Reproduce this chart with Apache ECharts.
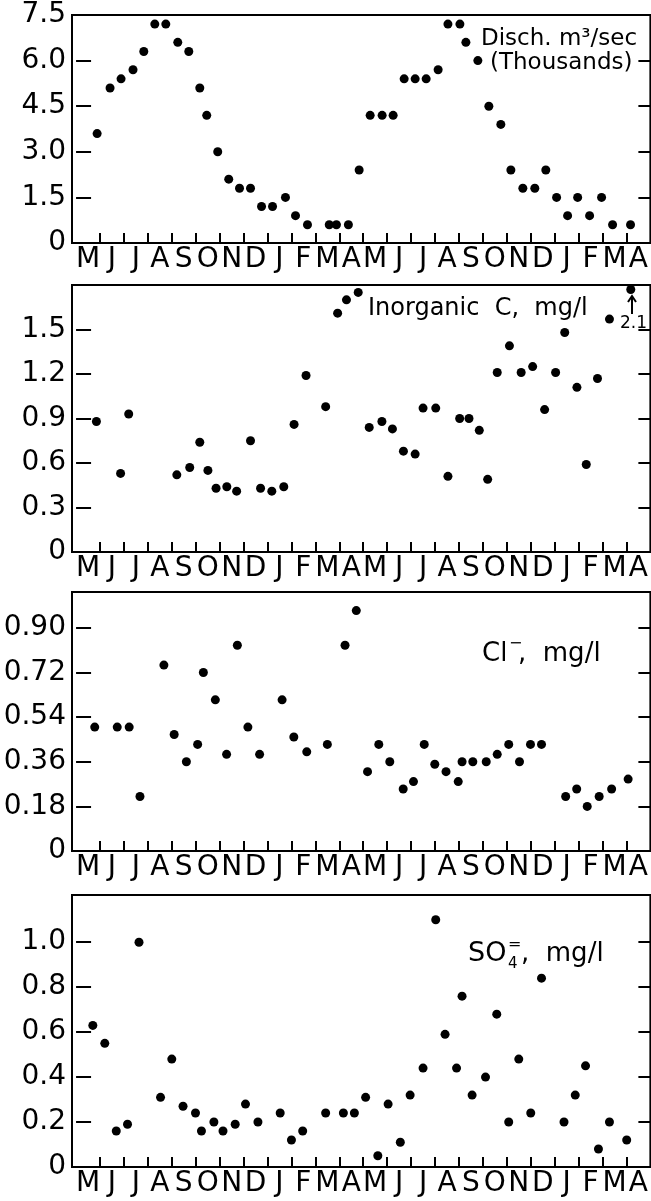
<!DOCTYPE html>
<html>
<head>
<meta charset="utf-8">
<title>River chemistry</title>
<script src="https://cdn.jsdelivr.net/npm/echarts@6/dist/echarts.min.js"></script>
<style>
html, body { margin: 0; padding: 0; background: #fff; }
#main { width: 651px; height: 1201px; }
</style>
</head>
<body>
<div id="main"></div>
<script>
// month letters, two years May..April
var months = ['M','J','J','A','S','O','N','D','J','F','M','A',
              'M','J','J','A','S','O','N','D','J','F','M','A'];

// discharge, m3/sec (thousands)
var dischMonth = [0.88,1.42,1.88,2.38,2.83,3.29,3.75,4.25,4.71,5.17,5.46,5.92,6.38,6.83,7.29,7.75,
                  8.21,8.75,9.17,9.67,10.58,10.88,11.38,11.83,12.29,12.79,13.25,13.71,14.17,14.63,
                  15.13,15.54,16.04,16.29,16.79,17.25,17.75,18.17,18.67,19.17,19.63,20.08,20.54,
                  20.96,21.46,21.96,22.42,23.17];
var dischValue = [3.6,5.1,5.4,5.7,6.3,7.2,7.2,6.6,6.3,5.1,4.2,3.0,2.1,1.8,1.8,1.2,
                  1.2,1.5,0.9,0.6,0.6,0.6,0.6,2.4,4.2,4.2,4.2,5.4,5.4,5.4,
                  5.7,7.2,7.2,6.6,6.0,4.5,3.9,2.4,1.8,1.8,2.4,1.5,0.9,
                  1.5,0.9,1.5,0.6,0.6];

// inorganic C, mg/l (last one is 2.1, off scale)
var carbonMonth = [0.85,1.86,2.20,4.21,4.75,5.17,5.51,5.85,6.30,6.71,7.29,7.71,8.18,8.68,9.11,9.61,
                   10.43,10.93,11.30,11.79,12.25,12.78,13.22,13.68,14.17,14.50,15.03,15.54,16.03,
                   16.42,16.85,17.20,17.60,18.11,18.60,19.08,19.58,20.04,20.42,20.93,21.32,21.79,
                   22.29,23.18];
var carbonValue = [0.88,0.53,0.93,0.52,0.57,0.74,0.55,0.43,0.44,0.41,0.75,0.43,0.41,0.44,0.86,1.19,
                   0.98,1.61,1.70,1.75,0.84,0.88,0.83,0.68,0.66,0.97,0.97,0.51,0.90,
                   0.90,0.82,0.49,1.21,1.39,1.21,1.25,0.96,1.21,1.48,1.11,0.59,1.17,
                   1.57,2.1];

// Cl-, mg/l
var chlorideMonth = [0.78,1.72,2.22,2.67,3.67,4.10,4.61,5.08,5.32,5.82,6.29,6.74,7.18,7.67,8.61,9.10,
                     9.64,10.50,11.24,11.71,12.18,12.65,13.11,13.67,14.10,14.55,14.99,15.46,15.97,
                     16.13,16.58,17.14,17.60,18.08,18.53,18.99,19.45,20.46,20.92,21.36,21.86,22.38,
                     23.07];
var chlorideValue = [0.50,0.50,0.50,0.22,0.75,0.47,0.36,0.43,0.72,0.61,0.39,0.83,0.50,0.39,0.61,0.46,
                     0.40,0.43,0.83,0.97,0.32,0.43,0.36,0.25,0.28,0.43,0.35,0.32,0.28,
                     0.36,0.36,0.36,0.39,0.43,0.36,0.43,0.43,0.22,0.25,0.18,0.22,0.25,
                     0.29];

// SO4=, mg/l
var sulfateMonth = [0.70,1.20,1.68,2.15,2.63,3.53,4.00,4.47,4.99,5.24,5.76,6.14,6.65,7.08,7.60,8.53,
                    9.00,9.47,10.43,11.17,11.63,12.10,12.61,13.04,13.55,13.96,14.50,15.03,15.42,
                    15.90,16.13,16.55,17.11,17.58,18.08,18.50,19.00,19.45,20.39,20.86,21.29,21.83,
                    22.29,23.01];
var sulfateValue = [0.63,0.55,0.16,0.19,1.00,0.31,0.48,0.27,0.24,0.16,0.20,0.16,0.19,0.28,0.20,0.24,
                    0.12,0.16,0.24,0.24,0.24,0.31,0.05,0.28,0.11,0.32,0.44,1.10,0.59,
                    0.44,0.76,0.32,0.40,0.68,0.20,0.48,0.24,0.84,0.20,0.32,0.45,0.08,
                    0.20,0.12];

// y tick labels
var dischTicks = [0,1.5,3.0,4.5,6.0,7.5];
var carbonTicks = [0,0.3,0.6,0.9,1.2,1.5];
var chlorideTicks = [0,0.18,0.36,0.54,0.72,0.90];
var sulfateTicks = [0,0.2,0.4,0.6,0.8,1.0];

var font = 'DejaVu Sans';
var monthTicks = [], monthMids = [];
for (var k = 0; k < 24; k++) {
    if (k > 0) monthTicks.push(k);
    monthMids.push(k + 0.5);
}

var panels = [
    {top: 15,  height: 228, max: 7.5,   ticks: dischTicks,    digits: 1, x: dischMonth,    y: dischValue},
    {top: 285, height: 267, max: 1.8,   ticks: carbonTicks,   digits: 1, x: carbonMonth,   y: carbonValue, clip: 1.77},
    {top: 592, height: 259, max: 1.045, ticks: chlorideTicks, digits: 2, x: chlorideMonth, y: chlorideValue},
    {top: 895, height: 272, max: 1.21,  ticks: sulfateTicks,  digits: 1, x: sulfateMonth,  y: sulfateValue}
];

var grid = [], xAxis = [], yAxis = [], series = [];
panels.forEach(function (p, i) {
    grid.push({
        left: 72, width: 580, top: p.top, height: p.height,
        show: true, borderColor: '#000', borderWidth: 2, backgroundColor: 'transparent'
    });
    xAxis.push({
        type: 'value', gridIndex: i, min: -0.17, max: 24,
        axisLine: {show: false},
        splitLine: {show: false},
        axisTick: {show: true, inside: true, length: 10, customValues: monthTicks,
                   lineStyle: {color: '#000', width: 2}},
        axisLabel: {customValues: monthMids, margin: 3, color: '#000',
                    fontFamily: font, fontSize: 28,
                    formatter: function (v) { return months[Math.floor(v)]; }}
    });
    var fmt = function (v) { return v === 0 ? '0' : v.toFixed(p.digits); };
    yAxis.push({
        type: 'value', gridIndex: i, min: 0, max: p.max, position: 'left',
        axisLine: {show: false},
        splitLine: {show: false},
        axisTick: {show: true, inside: true, length: 15, customValues: p.ticks,
                   lineStyle: {color: '#000', width: 2}},
        axisLabel: {customValues: p.ticks, margin: 6, color: '#000',
                    fontFamily: font, fontSize: 28, formatter: fmt}
    });
    yAxis.push({
        type: 'value', gridIndex: i, min: 0, max: p.max, position: 'right',
        axisLine: {show: false},
        splitLine: {show: false},
        axisTick: {show: true, inside: true, length: 12, customValues: p.ticks,
                   lineStyle: {color: '#000', width: 2}},
        axisLabel: {show: false}
    });
    series.push({
        type: 'scatter', xAxisIndex: i, yAxisIndex: 2 * i,
        symbolSize: 9, itemStyle: {color: '#000', opacity: 1},
        data: p.x.map(function (m, j) {
            var v = p.y[j];
            if (p.clip && v > p.clip) v = p.clip; // off-scale point sits at the frame
            return [m, v];
        })
    });
});

function txt(x, y, s, size) {
    return {type: 'text', style: {x: x, y: y, text: s, fill: '#000',
            font: (size || 23) + 'px "' + font + '"', textVerticalAlign: 'middle'}};
}

var graphic = [
    txt(481, 39, 'Disch. m³/sec'),
    txt(490, 63, '(Thousands)'),
    txt(368, 309, 'Inorganic  C,  mg/l', 24),
    txt(620, 324, '2.1', 17),
    {type: 'line', shape: {x1: 632, y1: 314, x2: 632, y2: 297}, style: {stroke: '#000', lineWidth: 2}},
    {type: 'polyline', shape: {points: [[628, 302], [632, 296], [636, 302]]}, style: {stroke: '#000', lineWidth: 2, fill: null}},
    txt(482, 654, 'Cl', 26),
    txt(509, 644, '−', 16),
    txt(518, 654, ',  mg/l', 26),
    txt(468, 954, 'SO', 27),
    txt(508, 945, '=', 16),
    txt(508, 964, '4', 15),
    txt(521, 954, ',  mg/l', 26)
];

var chart = echarts.init(document.getElementById('main'));
chart.setOption({
    backgroundColor: '#fff',
    animation: false,
    grid: grid,
    xAxis: xAxis,
    yAxis: yAxis,
    series: series,
    graphic: graphic
});
</script>
</body>
</html>
